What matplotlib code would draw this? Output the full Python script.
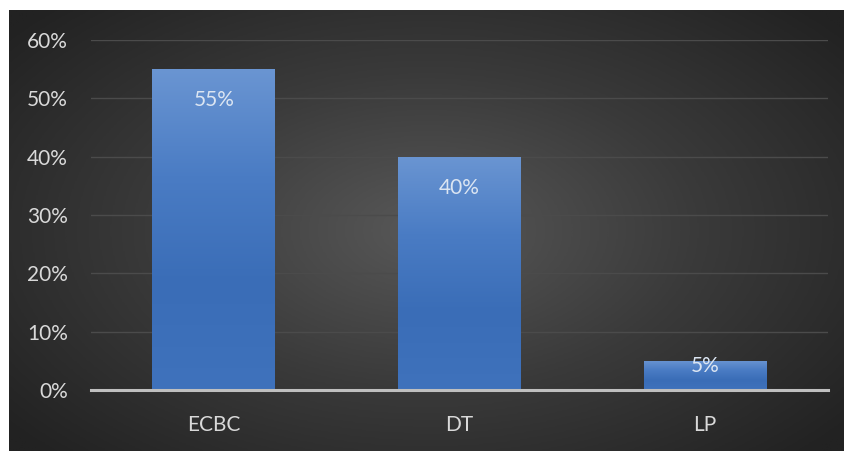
import numpy as np
import matplotlib
matplotlib.use("Agg")
import matplotlib.pyplot as plt
from matplotlib.colors import LinearSegmentedColormap

categories = ["ECBC", "DT", "LP"]
values = [55, 40, 5]
yticks = [0, 10, 20, 30, 40, 50, 60]

plt.rcParams["font.family"] = ["Lato", "DejaVu Sans"]

W, H = 845, 451
fig = plt.figure(figsize=(W / 100, H / 100), dpi=100, facecolor="white")

# dark radial-gradient backdrop
bg = fig.add_axes([9 / W, 0, (W - 9) / W, (H - 10) / H])
bg.set_axis_off()
yy, xx = np.mgrid[-1:1:300j, -1:1:600j]
r = np.sqrt((xx / 1.0) ** 2 + (yy / 1.1) ** 2)
r = np.clip(r / 1.3, 0, 1)
bg_cmap = LinearSegmentedColormap.from_list("bg", ["#585858", "#3a3a3a", "#222222"])
bg.imshow(bg_cmap(r), aspect="auto", extent=[0, 1, 0, 1], interpolation="bilinear")
bg.set_xlim(0, 1)
bg.set_ylim(0, 1)

ax_h_px = 350
ax = fig.add_axes([91 / W, 61 / H, 737 / W, ax_h_px / H])
ax.patch.set_alpha(0)
ax.set_xlim(-0.5, 2.5)
ax.set_ylim(0, 60)

for v in yticks[1:]:
    ax.axhline(v, color="#4b4b4b", lw=1.0, zorder=1)

bar_cmap = LinearSegmentedColormap.from_list(
    "bar", ["#3f72bc", "#3a6db7", "#4a7cc4", "#6a95d2"])
x = np.arange(len(categories))
bars = ax.bar(x, values, width=0.5, color="#4a7cc2", zorder=2)
grad = np.linspace(0, 1, 256).reshape(-1, 1)
for b in bars:
    x0, w, h = b.get_x(), b.get_width(), b.get_height()
    im = ax.imshow(grad, cmap=bar_cmap, aspect="auto", origin="lower",
                   extent=[x0, x0 + w, 0, h], zorder=3, interpolation="bilinear")
    im.set_clip_path(b)

ax.set_xlim(-0.5, 2.5)
ax.set_ylim(0, 60)

# value labels sit inside the bar end, but never lower than a minimum height
px = 60 / ax_h_px
for xi, v in zip(x, values):
    ly = max(v - 31 * px, 24 * px)
    ax.text(xi, ly, f"{v}%", ha="center", va="center",
            color="#dbe5f2", fontsize=15, zorder=4)

ax.axhline(0, color="#bfbfbf", lw=2.2, zorder=5, clip_on=False)

for s in ax.spines.values():
    s.set_visible(False)
ax.set_yticks(yticks)
ax.set_yticklabels([f"{v}%" for v in yticks])
ax.set_xticks(x)
ax.set_xticklabels(categories)
ax.tick_params(axis="y", length=0, pad=16.5, labelcolor="#d9d9d9", labelsize=15)
ax.tick_params(axis="x", length=0, pad=18, labelcolor="#d9d9d9", labelsize=15)

fig.savefig("out.png", dpi=100, facecolor="white")
